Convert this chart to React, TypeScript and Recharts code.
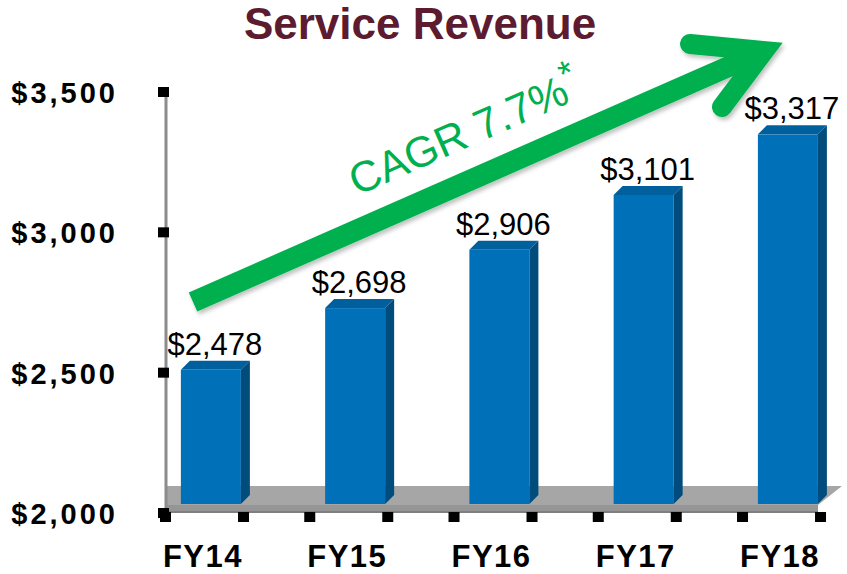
import React from "react"
import {
  BarChart,
  Bar,
  XAxis,
  YAxis,
  LabelList,
  ReferenceArea,
} from "recharts"

const categories = ["FY14", "FY15", "FY16", "FY17", "FY18"]
const revenue = [2478, 2698, 2906, 3101, 3317]
const yTicks = [2000, 2500, 3000, 3500]
const cagrLabel = "CAGR 7.7%"

const FONT = '"Liberation Sans", Arial, sans-serif'
const DEPTH = 9

const data = categories.map((name, i) => ({ idx: i, name, revenue: revenue[i] }))

const money = (v: number) => "$" + v.toLocaleString("en-US")

function Bar3D(props: any) {
  const { x, y, width: w, height: h } = props
  if (h == null || w == null) return null
  const d = DEPTH
  return (
    <g>
      <rect x={x} y={y - d} width={w} height={h} fill="#0071B9" />
      <polygon
        points={`${x},${y - d} ${x + d},${y - 2 * d} ${x + w + d},${y - 2 * d} ${x + w},${y - d}`}
        fill="#00609E"
      />
      <polygon
        points={`${x + w},${y - d} ${x + w + d},${y - 2 * d} ${x + w + d},${y + h - 2 * d} ${x + w},${y + h - d}`}
        fill="#004C7D"
      />
    </g>
  )
}

function Floor(props: any) {
  const { x, y, width: w, height: h } = props
  return (
    <g>
      <polygon
        points={`${x},${y} ${x + w + 12},${y} ${x + w - 12},${y + h - 8} ${x},${y + h - 8}`}
        fill="#A6A6A6"
      />
      <rect x={x} y={y + h - 8} width={w - 12} height={8} fill="#959595" />
      <rect x={x} y={y + h - 2} width={w - 12} height={2} fill="#7F7F7F" />
    </g>
  )
}

function YTick(props: any) {
  const { x, y, payload } = props
  return (
    <g>
      <rect x={x - 8} y={y - 5} width={11} height={10} fill="#000" />
      <text
        x={x - 48}
        y={y + 11}
        textAnchor="end"
        fontFamily={FONT}
        fontWeight="bold"
        fontSize={29}
        letterSpacing={3}
        fill="#000"
      >
        {money(payload.value)}
      </text>
    </g>
  )
}

function XTick(props: any) {
  const { x, y, payload } = props
  const cx = x - 8
  return (
    <g>
      <rect x={cx - 43} y={y - 1} width={11} height={10} fill="#000" />
      <rect x={cx + 35} y={y - 1} width={11} height={10} fill="#000" />
      <text
        x={cx}
        y={y + 54}
        textAnchor="middle"
        fontFamily={FONT}
        fontWeight="bold"
        fontSize={31}
        letterSpacing={1.5}
        fill="#000"
      >
        {categories[payload.value]}
      </text>
    </g>
  )
}

function ValueLabel(props: any) {
  const { x, y, width, value } = props
  return (
    <text
      x={x + width / 2 + 4}
      y={y - 24}
      textAnchor="middle"
      fontFamily={FONT}
      fontSize={31}
      fill="#000"
    >
      {money(value)}
    </text>
  )
}

function Overlay() {
  // growth arrow + CAGR note
  return (
    <svg
      width={847}
      height={574}
      style={{ position: "absolute", left: 0, top: 0, pointerEvents: "none" }}
    >
      <defs>
        <filter id="shadow" x="-10%" y="-10%" width="120%" height="130%">
          <feDropShadow dx="2" dy="3" stdDeviation="2" floodColor="#000" floodOpacity="0.25" />
        </filter>
      </defs>
      <text
        x={420}
        y={39}
        textAnchor="middle"
        fontFamily={FONT}
        fontWeight="bold"
        fontSize={44}
        fill="#5C1B2E"
      >
        Service Revenue
      </text>
      <g filter="url(#shadow)">
        <line x1={193} y1={302} x2={764} y2={51} stroke="#00B050" strokeWidth={21} />
        <polyline
          points="690,44 764,51 722,107"
          fill="none"
          stroke="#00B050"
          strokeWidth={20}
          strokeLinecap="round"
          strokeLinejoin="miter"
        />
      </g>
      <text
        x={357}
        y={196}
        transform="rotate(-23.7 357 196)"
        fontFamily={FONT}
        fontSize={43}
        fill="#00B050"
      >
        {cagrLabel}
        <tspan dy={-16} fontSize={36}>*</tspan>
      </text>
    </svg>
  )
}

export default function App() {
  return (
    <div style={{ position: "absolute", left: 0, top: 0, width: 847, height: 574, background: "#fff" }}>
      <BarChart
        width={847}
        height={574}
        data={data}
        margin={{ top: 92, right: 17, bottom: 0, left: 0 }}
      >
        <XAxis
          type="number"
          dataKey="idx"
          domain={[-0.312, 4.291]}
          ticks={[0, 1, 2, 3, 4]}
          allowDataOverflow
          height={61}
          axisLine={false}
          tickLine={false}
          tickSize={0}
          tickMargin={0}
          tick={<XTick />}
        />
        <YAxis
          type="number"
          domain={[2000, 3500]}
          ticks={yTicks}
          allowDataOverflow
          width={166}
          axisLine={{ stroke: "#8C8C8C", strokeWidth: 3 }}
          tickLine={false}
          tickSize={0}
          tickMargin={0}
          tick={<YTick />}
        />
        <ReferenceArea
          x1={-0.312}
          x2={4.291}
          y1={2000}
          y2={2096}
          ifOverflow="visible"
          shape={<Floor />}
        />
        <Bar dataKey="revenue" barSize={60} shape={<Bar3D />} isAnimationActive={false}>
          <LabelList dataKey="revenue" content={<ValueLabel />} />
        </Bar>
      </BarChart>
      <Overlay />
    </div>
  )
}
